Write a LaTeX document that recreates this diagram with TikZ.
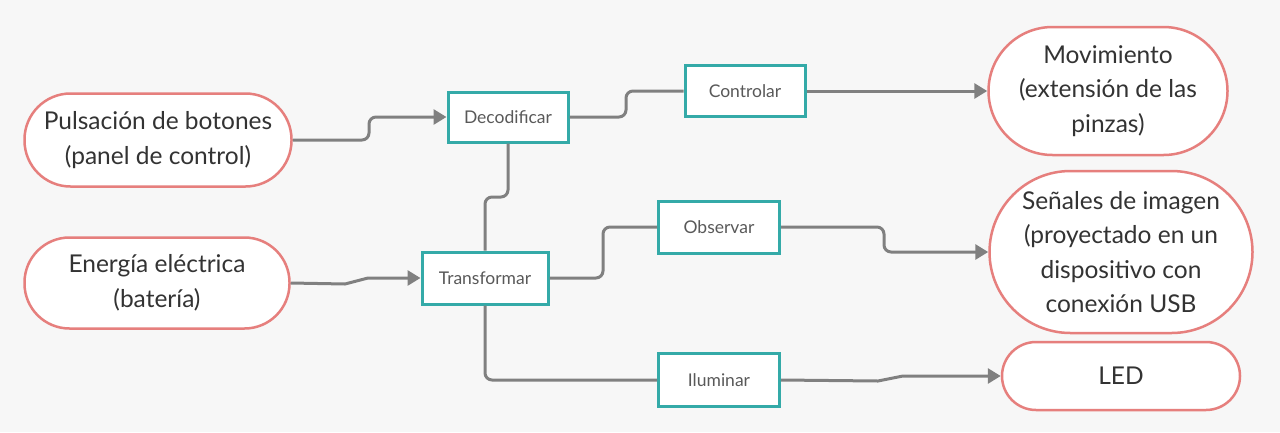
\documentclass[tikz,border=0pt]{standalone}
\usepackage{fontspec}
\setmainfont{Lato}
\usetikzlibrary{arrows.meta}
\definecolor{bgc}{HTML}{F7F7F7}
\definecolor{ovalc}{HTML}{E67F7D}
\definecolor{boxc}{HTML}{34AAA8}
\definecolor{linec}{HTML}{808080}
\definecolor{bigtxt}{HTML}{333333}
\definecolor{smalltxt}{HTML}{595959}
\begin{document}
\begin{tikzpicture}[x=1pt,y=-1pt,
  oval/.style={draw=ovalc, line width=2.5pt, fill=white, inner sep=0pt, align=center,
    text=bigtxt, font=\fontsize{24.5}{34.5}\selectfont},
  fbox/.style={draw=boxc, line width=3pt, fill=white, inner sep=0pt, align=center,
    text=smalltxt, font=\fontsize{17.5}{20}\selectfont},
  conn/.style={draw=linec, line width=3pt, rounded corners=7pt},
  arr/.style={conn, -{Triangle[length=13pt,width=15pt]}}
]
\useasboundingbox[fill=bgc] (0,0) rectangle (1280,432);

% ovals
\node[oval, minimum width=267pt, minimum height=93pt, rounded corners=46pt] (pul) at (158,140) {Pulsación de botones\\(panel de control)};
\node[oval, minimum width=265pt, minimum height=91pt, rounded corners=45pt] (ene) at (157,283) {Energía eléctrica\\(batería)};
\node[oval, minimum width=239pt, minimum height=128pt, rounded corners=64pt] (mov) at (1108,91) {Movimiento\\(extensión de las\\pinzas)};
\node[oval, minimum width=263pt, minimum height=162pt, rounded corners=81pt] (sen) at (1121,252) {Señales de imagen\\(proyectado en un\\dispositivo con\\conexión USB};
\node[oval, minimum width=238pt, minimum height=68pt, rounded corners=34pt] (led) at (1121,376) {LED};

% boxes
\node[fbox, minimum width=120pt, minimum height=50pt] (dec) at (508,117) {Decodificar};
\node[fbox, minimum width=126pt, minimum height=52pt] (tra) at (485,278) {Transformar};
\node[fbox, minimum width=120pt, minimum height=51pt] (con) at (745,91) {Controlar};
\node[fbox, minimum width=121pt, minimum height=52pt] (obs) at (719,227) {Observar};
\node[fbox, minimum width=121pt, minimum height=53pt] (ilu) at (719,380) {Iluminar};

% connectors
\draw[arr] (pul.east) -- (369,140) -- (369,117) -- (dec.west);
\draw[arr, rounded corners=0pt] (ene.east) -- (345,284) -- (368,278) -- (tra.west);
\draw[conn] (dec.south) -- (508,197) -- (485,197) -- (tra.north);
\draw[conn] (dec.east) -- (626,117) -- (626,91) -- (con.west);
\draw[arr] (con.east) -- (mov.west);
\draw[conn] (tra.east) -- (603,278) -- (603,227) -- (obs.west);
\draw[arr] (obs.east) -- (884,227) -- (884,252) -- (sen.west);
\draw[conn] (tra.south) -- (485,380) -- (ilu.west);
\draw[arr, rounded corners=0pt] (ilu.east) -- (878,381) -- (903,376) -- (led.west);
\end{tikzpicture}
\end{document}
